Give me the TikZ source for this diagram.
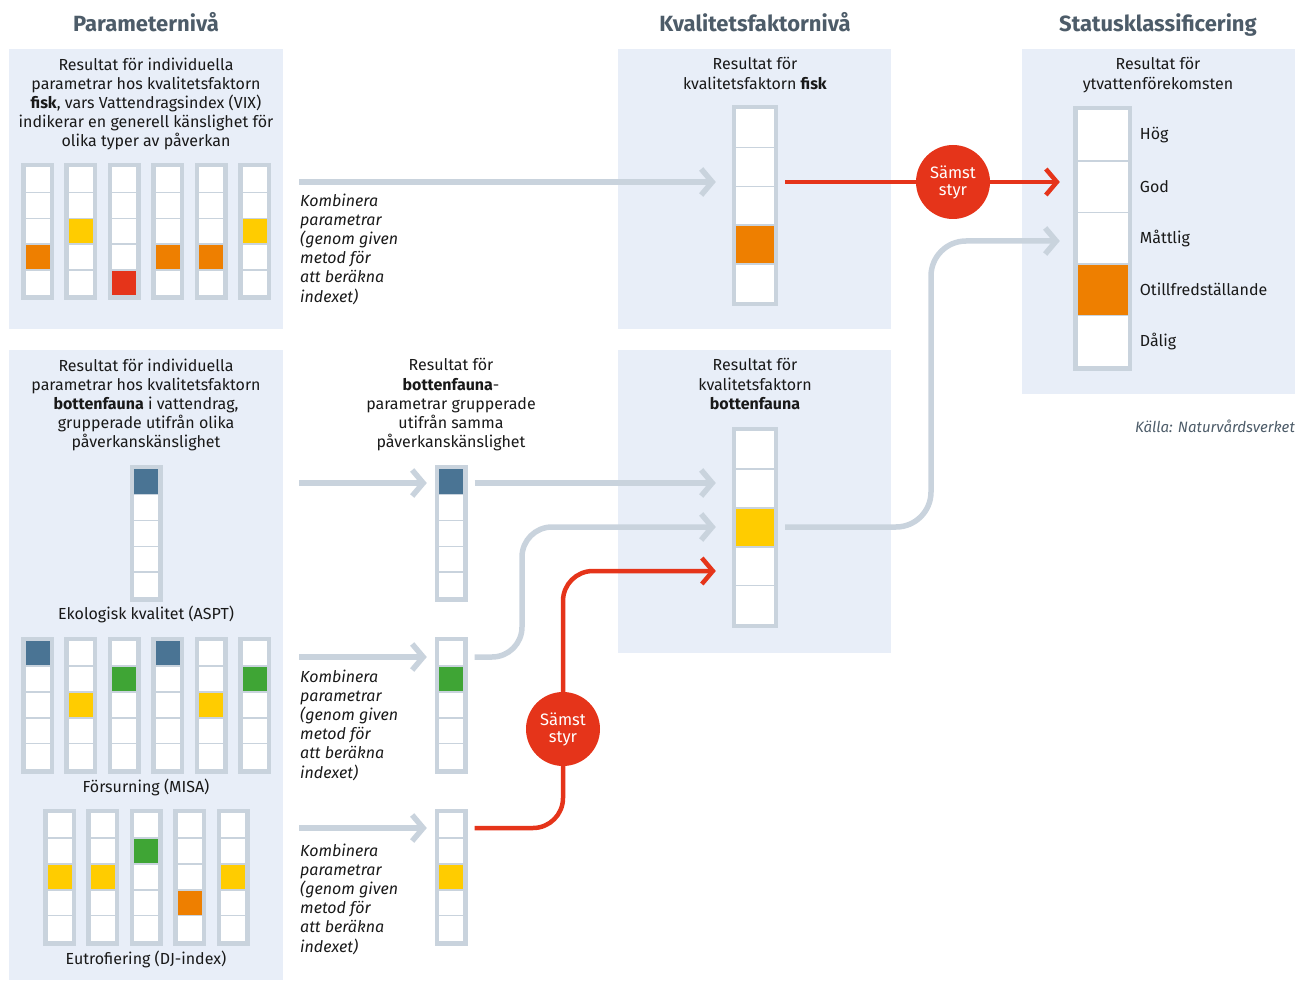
\documentclass[tikz,border=0pt]{standalone}
\usepackage{fontspec}
\setmainfont{Fira Sans}
\usetikzlibrary{positioning, arrows.meta, calc}
\definecolor{panel}{RGB}{232,238,248}
\definecolor{ramfarg}{RGB}{201,211,221}
\definecolor{rod}{RGB}{229,52,26}
\definecolor{orange}{RGB}{238,127,0}
\definecolor{gul}{RGB}{255,204,0}
\definecolor{gron}{RGB}{63,165,53}
\definecolor{bla}{RGB}{74,116,148}
\definecolor{rubrikfarg}{RGB}{77,92,105}
\definecolor{brodtext}{RGB}{25,25,25}
\tikzstyle{ruta}=[rectangle, fill=panel, inner sep=0]
\tikzstyle{stapel}=[rectangle, fill=ramfarg, inner sep=0]
\tikzstyle{cell}=[rectangle, fill=white, inner sep=0]
\tikzstyle{rubrik}=[font=\bfseries\fontsize{22}{26}\selectfont, text=rubrikfarg, anchor=base]
\tikzstyle{brod}=[font=\fontsize{16}{19.2}\selectfont, text=brodtext, align=center, inner sep=0]
\tikzstyle{kursiv}=[font=\itshape\fontsize{16}{19.2}\selectfont, text=brodtext, align=left, inner sep=0]
\tikzstyle{grapil}=[draw=ramfarg, line width=5.5pt, -{Straight Barb[length=11pt, width=26pt]}]
\tikzstyle{rodpil}=[draw=rod, line width=4.5pt, -{Straight Barb[length=11pt, width=26pt]}]
\tikzstyle{rodlinje}=[draw=rod, line width=4.5pt]
\tikzstyle{samst}=[circle, fill=rod, minimum size=74pt, inner sep=0, text=white, align=center, font=\fontsize{16.5}{17}\selectfont]
% storlekar for staplarna
\newcommand{\liten}{\def\bw{33}\def\bp{4.5}\def\bh{24.4}}
\newcommand{\mellan}{\def\bw{46}\def\bp{4}\def\bh{37.4}}
\newcommand{\stor}{\def\bw{59}\def\bp{4.5}\def\bh{50}}
% namn, position, storlek, fargad ruta, farg
\newcommand{\stapel}[5]{%
  #3
  \node[stapel, minimum width=\bw, minimum height={2*\bp+5*\bh+6}] (#1) at #2 {};
  \foreach \k in {1,...,5}{
    \ifnum\k=#4\relax \def\fc{#5}\else \def\fc{white}\fi
    \node[cell, fill=\fc, minimum width={\bw-2*\bp}, minimum height=\bh] (#1-\k)
      at ($(#1.north)+(0,{\bp+(\k-0.5)*\bh+(\k-1)*1.5})$) {};
  }
}

\begin{document}
\begin{tikzpicture}[x=1pt,y=-1pt]
  \useasboundingbox (0,0) rectangle (1295,981);
  % rubriker
  \node[rubrik] (h1) at (146,31.5) {Parameternivå};
  \node[rubrik] (h2) at (755,31.5) {Kvalitetsfaktornivå};
  \node[rubrik] (h3) at (1158,31.5) {Statusklassificering};
  % bakgrund
  \node[ruta, minimum width=274, minimum height=280] (pA) at (146,189) {};
  \node[ruta, minimum width=274, minimum height=630] (pB) at (146,665) {};
  \node[ruta, minimum width=273, minimum height=280] (pC) at (754.5,189) {};
  \node[ruta, minimum width=273, minimum height=303] (pD) at (754.5,501.5) {};
  \node[ruta, minimum width=273, minimum height=345] (pE) at (1158.5,221.5) {};

  % parameterniva, fisk
  \node[brod, anchor=north] (tA) at (146,57.5) {Resultat för individuella\\parametrar hos kvalitetsfaktorn\\
    \textbf{fisk}, vars Vattendragsindex (VIX)\\indikerar en generell känslighet för\\olika typer av påverkan};
  \foreach \n/\r/\c in {1/4/orange,2/3/gul,3/5/rod,4/4/orange,5/4/orange,6/3/gul}{
    \stapel{f\n}{({37.5+43.4*(\n-1)},231.5)}{\liten}{\r}{\c}
  }
  % parameterniva, bottenfauna
  \node[brod, anchor=north] (tB) at (146,358.5) {Resultat för individuella\\parametrar hos kvalitetsfaktorn\\
    \textbf{bottenfauna} i vattendrag,\\grupperade utifrån olika\\påverkanskänslighet};
  \stapel{aspt}{(146,533.5)}{\liten}{1}{bla}
  \node[brod, below=4pt of aspt] (lA) {Ekologisk kvalitet (ASPT)};
  \foreach \n/\r/\c in {1/1/bla,2/3/gul,3/2/gron,4/1/bla,5/3/gul,6/2/gron}{
    \stapel{a\n}{({37.5+43.4*(\n-1)},705)}{\liten}{\r}{\c}
  }
  \node[brod] (lB) at (146,787) {Försurning (MISA)};
  \foreach \n/\r/\c in {1/3/gul,2/3/gul,3/2/gron,4/4/orange,5/3/gul}{
    \stapel{e\n}{({59.5+43.4*(\n-1)},877)}{\liten}{\r}{\c}
  }
  \node[brod] (lC) at (146,959) {Eutrofiering (DJ-index)};

  % grupperade
  \node[brod, anchor=north] (tM) at (451,358.5) {Resultat för\\\textbf{bottenfauna}-\\parametrar grupperade\\utifrån samma\\påverkanskänslighet};
  \stapel{m1}{(451,533.5)}{\liten}{1}{bla}
  \stapel{m2}{(451,705)}{\liten}{2}{gron}
  \stapel{m3}{(451,877)}{\liten}{3}{gul}

  % kvalitetsfaktorniva
  \node[brod, anchor=north] (tC) at (755,57.5) {Resultat för\\kvalitetsfaktorn \textbf{fisk}};
  \stapel{fisk}{(755,206)}{\mellan}{4}{orange}
  \node[brod, anchor=north] (tD) at (755,358.5) {Resultat för\\kvalitetsfaktorn\\\textbf{bottenfauna}};
  \stapel{bf}{(755,527.5)}{\mellan}{3}{gul}

  % status
  \node[brod, anchor=north] (tE) at (1158,57.5) {Resultat för\\ytvattenförekomsten};
  \stapel{status}{(1102.5,238.5)}{\stor}{4}{orange}
  \foreach \k/\t in {1/Hög,2/God,3/Måttlig,4/Otillfredställande,5/Dålig}{
    \node[brod, anchor=west] (s\k) at ($(status-\k.east)+(12,0)$) {\t};
  }
  \node[font=\itshape\fontsize{15}{18}\selectfont, text=rubrikfarg, anchor=east, inner sep=0] (kalla) at (1295,426) {Källa: Naturvårdsverket};

  % pilar
  \coordinate (k1) at (299,182);
  \coordinate (k2) at (299,483);
  \coordinate (k3) at (299,657);
  \coordinate (k4) at (299,828);
  \coordinate (v1) at (522,527);
  \coordinate (v2) at (563,571);
  \coordinate (v3) at (931,241);
  \node[samst] (sa) at (953,182) {Sämst\\styr};
  \node[samst] (sb) at (563,729) {Sämst\\styr};

  \draw[grapil, shorten >=16] (k1) -- (fisk.west |- k1);
  \draw[grapil, shorten >=7.5] (k2) -- (m1.west |- k2);
  \draw[grapil, shorten >=7.5] (k3) -- (m2.west |- k3);
  \draw[grapil, shorten >=7.5] (k4) -- (m3.west |- k4);
  \draw[grapil, shorten <=7, shorten >=16] (m1.east |- k2) -- (bf.west |- k2);
  \draw[grapil, rounded corners=30, shorten <=7, shorten >=16] (m2.east |- k3) -| (v1) -- (bf.west |- v1);
  \draw[rodlinje, rounded corners=30, shorten <=7] (m3.east |- k4) -| (sb.south);
  \draw[rodpil, rounded corners=30, shorten >=16] (sb.north) |- (bf.west |- v2);
  \draw[rodlinje, shorten <=7] (fisk.east |- k1) -- (sa.west);
  \draw[rodpil, shorten >=13] (sa.east) -- (status.west |- k1);
  \draw[grapil, rounded corners=35, shorten <=7, shorten >=13] (bf.east |- v1) -| (v3) -- (status.west |- v3);

  \node[kursiv, anchor=north west] (t1) at ($(k1)+(1,11.5)$) {Kombinera\\parametrar\\(genom given\\metod för\\att beräkna\\indexet)};
  \node[kursiv, anchor=north west] (t3) at ($(k3)+(1,12.5)$) {Kombinera\\parametrar\\(genom given\\metod för\\att beräkna\\indexet)};
  \node[kursiv, anchor=north west] (t4) at ($(k4)+(1,15.5)$) {Kombinera\\parametrar\\(genom given\\metod för\\att beräkna\\indexet)};
\end{tikzpicture}
\end{document}
